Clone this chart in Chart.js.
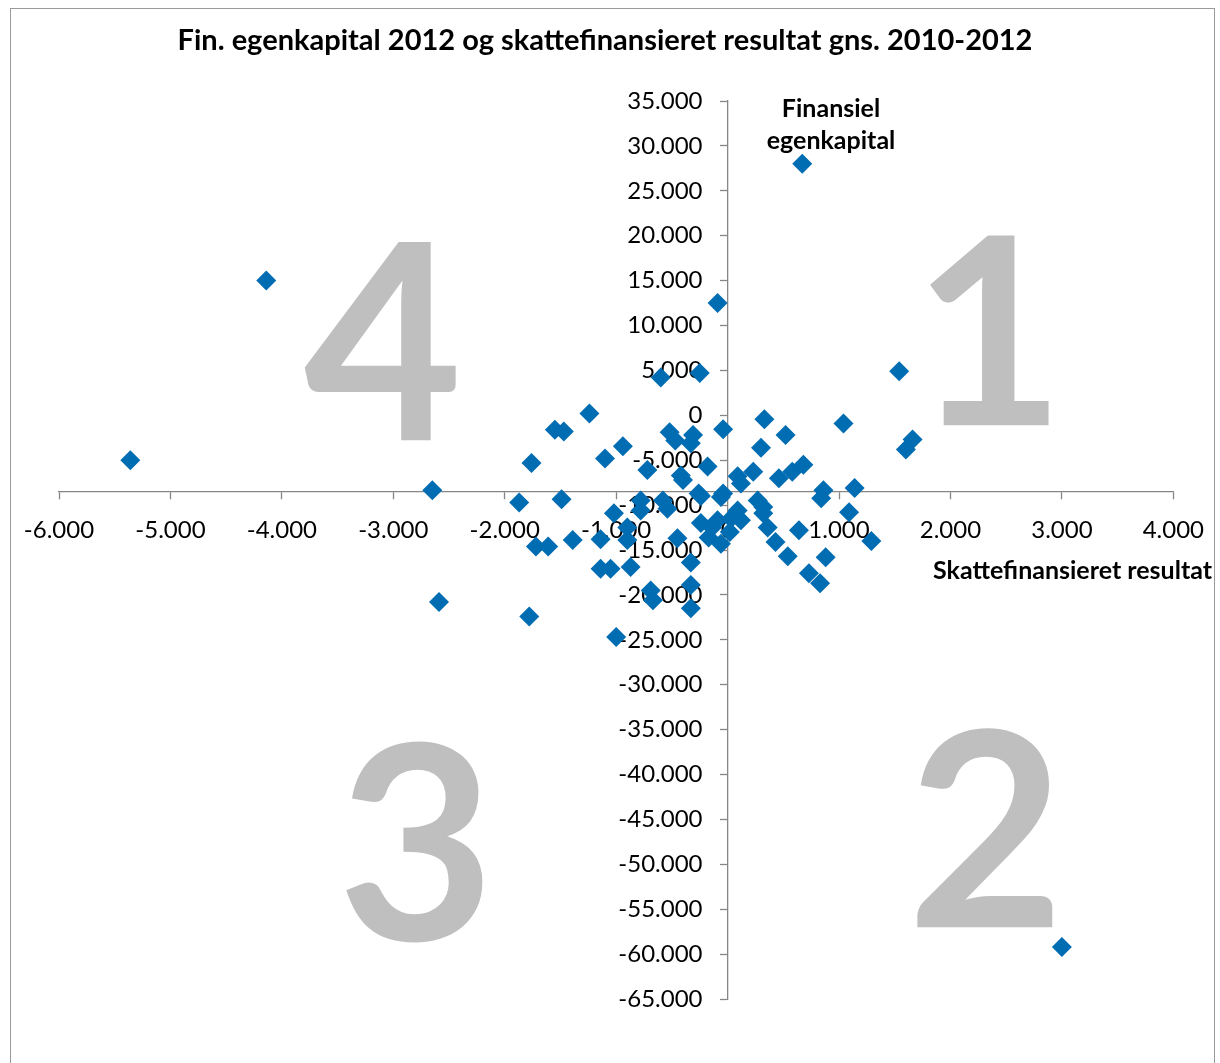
<!DOCTYPE html>
<html>
<head>
<meta charset="utf-8">
<script src="https://cdn.jsdelivr.net/npm/chart.js@4"></script>
<style>
  body { margin: 0; background: #fff; }
  #wrap { width: 1220px; height: 1063px; }
</style>
</head>
<body>
<div id="wrap"><canvas id="scatterChart" width="1220" height="1063"></canvas></div>
<script>
// DATA
const chartTitle = "Fin. egenkapital 2012 og skattefinansieret resultat gns. 2010-2012";
const xTitle = "Skattefinansieret resultat";
const yTitle = ["Finansiel", "egenkapital"];
const quadrants = ["1", "2", "3", "4"];

// skattefinansieret resultat (x) og finansiel egenkapital (y)
const resultat = [670, -4140, -5360, -90, 1540, 3000, -2650, -2590, -1780, -1000,
  -600, -250, -1240, -1550, -1470, -1760, -940, -1100, -1870, -1490,
  -520, -470, -310, -330, -720, -420, -400, -180, -40, -240,
  -60, 330, 1040, 1660, 1600, 520, 300, 90, 230, 120,
  460, 580, 680, 860, 840, 1140, 1090, -40, 90, 270,
  320, 320, 360, 640, 430, 540, 880, 730, 830, 1290,
  -780, -900, -450, -870, -330, -670, -690, -330, -330, -240,
  -170, -60, -90, 30, -1720, -1610, -1390, -1140, -1050, -1140,
  -540, -260, -780, -580, -1020, 120, -140, 20, -900];
const egenkapital = [28000, 15000, -5000, 12500, 4900, -59200, -8350, -20800, -22400, -24700,
  4200, 4700, 200, -1600, -1800, -5300, -3450, -4800, -9700, -9350,
  -1900, -2800, -2200, -3100, -6100, -6700, -7200, -5700, -1550, -9000,
  -9100, -450, -900, -2700, -3800, -2200, -3600, -6800, -6300, -7600,
  -7000, -6300, -5500, -8350, -9250, -8100, -10800, -8700, -10600, -9500,
  -10200, -10900, -12500, -12800, -14100, -15700, -15800, -17600, -18700, -14000,
  -10600, -12500, -13700, -16900, -16400, -20600, -19500, -18900, -21500, -12000,
  -13600, -14300, -11700, -11500, -14600, -14600, -13900, -13800, -17100, -17100,
  -10400, -8700, -9500, -9500, -10900, -11700, -12500, -13000, -13900];

const xMin = -6000, xMax = 4000, xStep = 1000;
const yMin = -65000, yMax = 35000, yStep = 5000;
const xAxisAt = -8500; // y-verdi hvor x-aksen krydser

// tal med punktum som tusindtalsseparator
function fmt(v) {
  const s = Math.abs(v).toString().replace(/\B(?=(\d{3})+(?!\d))/g, ".");
  return (v < 0 ? "-" : "") + s;
}

const FONT = "Lato, 'Open Sans', sans-serif";
const axisGrey = "#868686";

// store grå tal i kvadranterne (placering i x/y-værdier)
const quadPos = [
  { x: 2345, y: -1114, size: 262 },
  { x: 2318, y: -57000, size: 272 },
  { x: -2794, y: -58464, size: 272 },
  { x: -3091, y: -2784, size: 274 },
];

const bgPlugin = {
  id: "bg",
  beforeDatasetsDraw(chart) {
    const { ctx, scales } = chart;
    ctx.save();
    ctx.fillStyle = "#bfbfbf";
    ctx.textAlign = "center";
    ctx.textBaseline = "alphabetic";
    quadrants.forEach((q, i) => {
      ctx.font = "bold " + quadPos[i].size + "px " + FONT;
      ctx.fillText(q, scales.x.getPixelForValue(quadPos[i].x), scales.y.getPixelForValue(quadPos[i].y));
    });
    ctx.restore();
  },
  afterDraw(chart) {
    const ctx = chart.ctx;
    ctx.save();
    ctx.fillStyle = "#000";
    ctx.textBaseline = "middle";
    // titel
    ctx.font = "bold 29px " + FONT;
    ctx.textAlign = "center";
    ctx.fillText(chartTitle, 605, 41);
    // aksetitler
    ctx.font = "bold 25px " + FONT;
    ctx.fillText(yTitle[0], 831, 109);
    ctx.fillText(yTitle[1], 831, 141);
    ctx.textAlign = "right";
    ctx.fillText(xTitle, 1212, 571);
    // ramme
    ctx.strokeStyle = "#9a9a9a";
    ctx.lineWidth = 1;
    ctx.strokeRect(10.5, 8.5, 1204, 1080);
    ctx.restore();
  },
};

const points = resultat.map((x, i) => ({ x: x, y: egenkapital[i] }));

new Chart(document.getElementById("scatterChart"), {
  type: "scatter",
  data: {
    datasets: [
      {
        data: points,
        pointStyle: "rectRot",
        pointRadius: 10,
        pointHoverRadius: 10,
        backgroundColor: "#006cb2",
        borderWidth: 0,
      },
    ],
  },
  options: {
    responsive: false,
    animation: false,
    events: [],
    layout: { padding: { left: 59, right: 43, bottom: 64, top: 101 } },
    plugins: {
      legend: { display: false },
      tooltip: { enabled: false },
      title: { display: false },
    },
    scales: {
      x: {
        type: "linear",
        min: xMin, max: xMax,
        position: { y: xAxisAt },
        grid: { drawOnChartArea: false, drawTicks: true, tickLength: 7, color: axisGrey, tickWidth: 1.3 },
        border: { display: true, color: axisGrey, width: 1.3 },
        ticks: { display: false, stepSize: xStep },
        afterFit: (s) => { s.height = 0; },
      },
      xl: {
        type: "linear",
        min: xMin, max: xMax,
        position: { y: xAxisAt },
        z: 1,
        grid: { display: false },
        border: { display: false },
        ticks: { stepSize: xStep, padding: 16, color: "#000", font: { family: FONT, size: 24 }, callback: (v) => fmt(v), maxRotation: 0, autoSkip: false },
        afterFit: (s) => { s.height = 0; },
      },
      y: {
        type: "linear",
        min: yMin, max: yMax,
        position: { x: 0 },
        grid: { drawOnChartArea: false, drawTicks: true, tickLength: 7, color: axisGrey, tickWidth: 1.3 },
        border: { display: true, color: axisGrey, width: 1.3 },
        ticks: { display: false, stepSize: yStep },
        afterFit: (s) => { s.width = 0; },
      },
      yl: {
        type: "linear",
        min: yMin, max: yMax,
        position: { x: -225 },
        z: 1,
        grid: { display: false },
        border: { display: false },
        ticks: { stepSize: yStep, color: "#000", font: { family: FONT, size: 24 }, callback: (v) => fmt(v), autoSkip: false },
        afterFit: (s) => { s.width = 0; },
      },
    },
  },
  plugins: [bgPlugin],
});
</script>
</body>
</html>
